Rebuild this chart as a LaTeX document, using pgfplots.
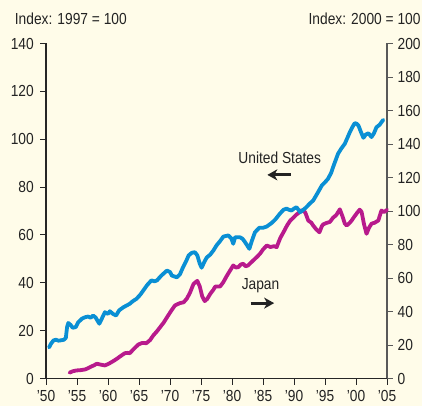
\documentclass[border=0pt]{standalone}
\usepackage{fontspec}
\setmainfont{Liberation Sans}[FakeStretch=0.86]
\usepackage{pgfplots}
\pgfplotsset{compat=1.18}
\usetikzlibrary{arrows.meta}
\definecolor{bg}{RGB}{255,252,233}
\definecolor{usblue}{RGB}{10,143,212}
\definecolor{jpmag}{RGB}{184,26,140}
\definecolor{txt}{RGB}{35,35,35}
\newcommand{\F}{\fontsize{16bp}{19bp}\selectfont}
\begin{document}
\begin{tikzpicture}
\path[use as bounding box, fill=bg] (-46bp,-27.5bp) rectangle (376bp,378.5bp);
\pgfplotsset{every axis/.append style={
  at={(0,0)}, anchor=south west, scale only axis,
  width=341bp, height=335bp,
  xmin=1950, xmax=2005, ymin=0, clip=false,
  tick align=outside, major tick length=6bp,
  every tick label/.append style={font=\F, text=txt},
  axis line style={-, line width=1.1bp},
  tick style={line width=0.9bp},
}}
% Japan, right axis
\begin{axis}[
  ymax=200,
  axis y line*=right, axis x line=none,
  ytick={0,20,...,200},
  yticklabels={0,20,40,60,80,100,120,140,160,180,200},
  y axis line style={draw=black!65},
  ytick style={draw=black!65},
  yticklabel style={inner sep=0pt, xshift=4.5bp},
]
\addplot[jpmag, line width=3.8bp, line join=round, line cap=round] coordinates {
(1953.8,3.5)(1954.3,4.3)(1954.9,4.8)(1955.6,5.0)(1956.3,5.4)(1956.7,6.0)(1957.1,6.8)
(1957.7,7.8)(1958.2,8.8)(1958.8,8.3)(1959.5,7.8)(1960.0,8.6)(1960.3,9.2)(1960.9,10.5)
(1961.4,11.7)(1962.0,13.3)(1962.7,15.1)(1963.2,15.3)(1963.5,15.1)(1964.2,17.8)(1964.9,20.3)
(1965.5,21.2)(1966.2,21.1)(1966.8,23.0)(1967.3,25.7)(1967.9,28.2)(1968.4,30.6)(1969.0,33.5)
(1969.7,37.6)(1970.3,41.0)(1970.8,43.6)(1971.3,44.5)(1971.6,45.0)(1972.2,45.5)(1972.7,47.6)
(1973.2,51.0)(1973.8,56.5)(1974.4,58.3)(1974.8,55.0)(1975.2,49.0)(1975.6,46.2)(1976.0,47.5)
(1976.5,50.6)(1977.0,53.0)(1977.3,54.9)(1978.1,55.0)(1978.6,57.5)(1979.2,61.5)(1979.7,64.5)
(1980.2,67.5)(1980.6,66.3)(1981.0,66.4)(1981.4,68.0)(1981.8,68.5)(1982.2,67.0)(1982.6,67.5)
(1983.0,69.0)(1983.4,70.4)(1984.0,72.5)(1984.5,74.4)(1985.0,77.0)(1985.6,79.4)(1986.2,78.5)
(1986.8,79.0)(1987.2,78.4)(1987.8,84.0)(1988.3,87.3)(1988.9,91.5)(1989.4,94.3)(1989.9,96.0)
(1990.4,97.9)(1990.8,99.0)(1991.2,100.5)(1991.8,99.3)(1992.3,94.3)(1992.8,93.0)(1993.1,91.3)
(1993.6,89.0)(1994.1,87.3)(1994.5,91.0)(1994.7,92.0)(1995.2,92.8)(1995.8,93.5)(1996.3,96.0)
(1996.8,97.5)(1997.4,101.0)(1997.8,97.0)(1998.2,92.5)(1998.5,91.3)(1999.0,93.0)(1999.3,94.3)
(1999.7,96.5)(2000.2,99.0)(2000.6,100.8)(2000.9,99.5)(2001.3,92.0)(2001.7,86.4)(2002.1,90.0)
(2002.5,92.4)(2003.0,93.0)(2003.6,94.3)(2004.1,100.3)(2004.5,99.3)(2005.0,100.7)
};
\end{axis}
% United States, left axis
\begin{axis}[
  ymax=140,
  axis y line*=left, axis x line*=bottom,
  ytick={0,20,...,140},
  yticklabels={0,20,40,60,80,100,120,140},
  xtick={1950,1955,...,2005},
  xticklabels={’50,’55,’60,’65,’70,’75,’80,’85,’90,’95,’00,’05},
  axis line style={draw=black!85},
  tick style={draw=black!85},
  yticklabel style={inner sep=0pt, xshift=-6bp},
  xticklabel style={inner sep=0pt, yshift=-5.5bp},
]
\addplot[usblue, line width=3.8bp, line join=round, line cap=round] coordinates {
(1950.5,13.0)(1950.8,14.5)(1951.2,15.9)(1951.6,16.2)(1952.0,15.8)(1952.5,16.0)(1952.9,16.2)
(1953.2,17.0)(1953.4,21.5)(1953.6,23.2)(1954.0,22.3)(1954.3,21.2)(1954.8,21.5)(1955.2,23.5)
(1955.8,25.0)(1956.3,25.6)(1956.8,25.9)(1957.2,25.4)(1957.6,26.3)(1958.0,25.5)(1958.6,22.9)
(1959.0,25.0)(1959.5,27.7)(1960.0,27.0)(1960.3,28.1)(1960.8,27.0)(1961.3,26.3)(1961.8,28.5)
(1962.5,29.8)(1963.0,30.5)(1963.5,31.2)(1964.0,32.3)(1964.6,33.3)(1965.2,35.0)(1965.7,36.8)
(1966.3,39.0)(1967.0,41.0)(1967.5,40.6)(1967.9,41.0)(1968.6,43.0)(1969.5,45.1)(1970.0,44.5)
(1970.3,43.0)(1971.1,42.3)(1971.6,43.5)(1972.1,46.5)(1972.6,49.0)(1973.0,51.4)(1973.5,52.5)
(1974.0,52.8)(1974.4,51.5)(1974.8,48.0)(1975.1,46.3)(1975.5,48.5)(1975.9,50.5)(1976.5,51.8)
(1977.0,53.5)(1977.5,55.6)(1978.1,57.5)(1978.6,59.3)(1979.4,59.8)(1979.9,58.5)(1980.2,56.3)
(1980.5,59.0)(1981.3,59.0)(1981.7,58.4)(1982.1,57.0)(1982.8,54.2)(1983.2,57.5)(1983.7,61.1)
(1984.4,63.0)(1985.0,63.0)(1985.6,63.5)(1986.4,65.0)(1987.0,66.5)(1987.7,68.8)(1988.3,70.5)
(1988.8,71.0)(1989.2,70.5)(1989.6,70.2)(1990.0,71.0)(1990.4,71.6)(1991.0,69.5)(1991.5,70.5)
(1992.0,71.6)(1992.5,73.0)(1993.1,74.4)(1993.8,77.5)(1994.5,80.7)(1995.0,82.0)(1995.5,83.5)
(1996.0,86.0)(1996.3,88.3)(1997.1,93.9)(1997.6,96.0)(1998.2,98.1)(1998.6,100.5)(1999.0,102.9)
(1999.4,105.0)(1999.8,106.7)(2000.1,106.5)(2000.4,105.7)(2000.8,103.0)(2001.2,100.6)(2001.6,102.0)
(2002.0,102.5)(2002.5,100.9)(2002.9,102.5)(2003.3,105.0)(2003.8,106.0)(2004.4,108.1)
};
\node[font=\F, text=txt] at (axis cs:1987.7,92.3) {United States};
\draw[txt, line width=2.8bp, -{Stealth[length=10bp,width=11bp,inset=3bp]}] (axis cs:1989.5,85.1) -- (axis cs:1985.7,85.1);
\node[font=\F, text=txt] at (axis cs:1984.6,38.6) {Japan};
\draw[txt, line width=2.8bp, -{Stealth[length=10bp,width=11bp,inset=3bp]}] (axis cs:1983.0,31.5) -- (axis cs:1986.8,31.5);
\end{axis}
\node[font=\F, text=txt, anchor=west, inner sep=0pt] at (-31.3bp,359.7bp) {Index: 1997 = 100};
\node[font=\F, text=txt, anchor=east, inner sep=0pt] at (374.7bp,360.2bp) {Index: 2000 = 100};
\end{tikzpicture}
\end{document}
